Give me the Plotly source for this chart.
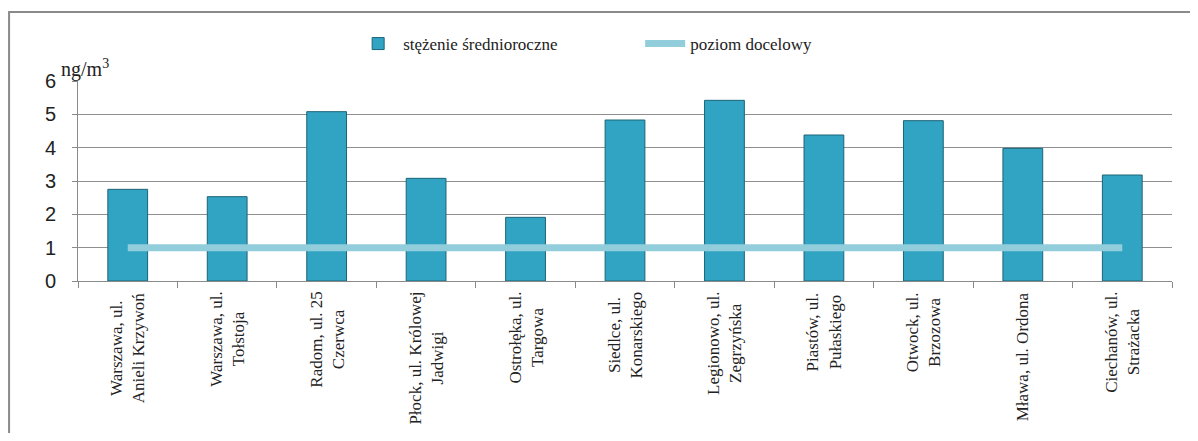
import plotly.graph_objects as go

categories = [
    "Warszawa, ul.<br>Anieli Krzywoń",
    "Warszawa, ul.<br>Tołstoja",
    "Radom, ul. 25<br>Czerwca",
    "Płock, ul. Królowej<br>Jadwigi",
    "Ostrołęka, ul.<br>Targowa",
    "Siedlce, ul.<br>Konarskiego",
    "Legionowo, ul.<br>Zegrzyńska",
    "Piastów, ul.<br>Pułaskiego",
    "Otwock, ul.<br>Brzozowa",
    "Mława, ul. Ordona",
    "Ciechanów, ul.<br>Strażacka",
]
mean_values = [2.75, 2.53, 5.08, 3.08, 1.91, 4.83, 5.42, 4.38, 4.81, 3.98, 3.18]
target_values = [1, 1, 1, 1, 1, 1, 1, 1, 1, 1, 1]
y_ticks = [0, 1, 2, 3, 4, 5, 6]

serif = "Liberation Serif"
sans = "Liberation Sans"

fig = go.Figure()
fig.add_trace(go.Bar(
    x=categories, y=mean_values, name="stężenie średnioroczne",
    width=0.4,
    marker=dict(color="#31a3c3", line=dict(color="#1c6477", width=1)),
))
fig.add_trace(go.Scatter(
    x=categories, y=target_values, name="poziom docelowy", mode="lines",
    line=dict(color="#92cddc", width=7),
))

for c in categories:
    fig.add_annotation(
        x=c, xref="x", y=-0.045, yref="paper", text=c, textangle=-90,
        showarrow=False, xanchor="center", yanchor="top", align="center",
        font=dict(family=serif, size=17, color="#222"),
    )

fig.add_annotation(
    x=-0.017, xref="paper", y=1.06, yref="paper", text="ng/m<sup>3</sup>",
    showarrow=False, xanchor="left", yanchor="middle",
    font=dict(family=serif, size=20, color="#222"),
)

# outer chart frame
fig.add_shape(type="rect", xref="paper", yref="paper",
              x0=-0.063, x1=1.05, y0=-0.9, y1=1.345,
              line=dict(color="#8a8a8a", width=2), layer="below")

fig.update_layout(
    width=1182, height=425,
    margin=dict(l=70, r=18, t=73, b=152),
    plot_bgcolor="white", paper_bgcolor="white",
    showlegend=True,
    legend=dict(orientation="h", x=0.2515, xanchor="left", y=1.185, yanchor="middle",
                font=dict(family=serif, size=17, color="#222"),
                entrywidth=232, bgcolor="rgba(0,0,0,0)", itemwidth=40),
    bargap=0.6,
)
fig.update_xaxes(
    showticklabels=False, showline=True, linecolor="#8a8a8a", linewidth=1,
    ticks="outside", ticklen=6, tickcolor="#8a8a8a", tickson="boundaries",
    showgrid=False, range=[-0.5, 10.5],
)
fig.update_yaxes(
    range=[0, 6], tickvals=y_ticks, showline=True, linecolor="#8a8a8a", linewidth=1,
    ticks="outside", ticklen=5, tickcolor="#8a8a8a",
    showgrid=True, gridcolor="#8f8f8f", gridwidth=1, zeroline=False,
    tickfont=dict(family=sans, size=20, color="#222"), ticklabelstandoff=12,
)

fig.write_html("out.html")
